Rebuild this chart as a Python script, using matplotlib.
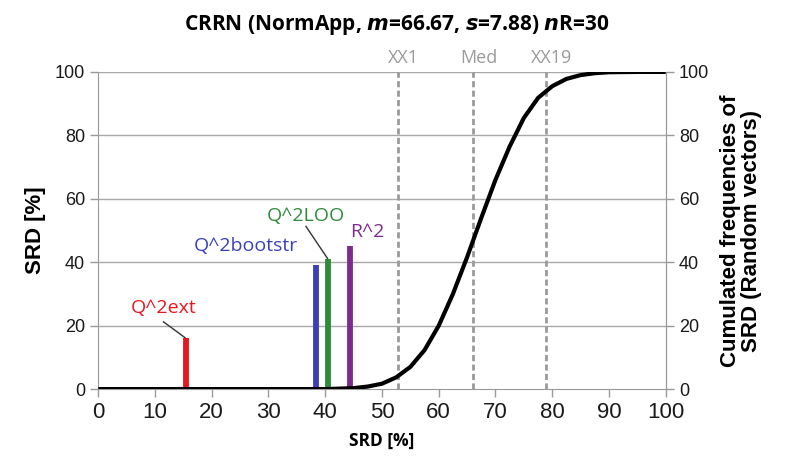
import matplotlib
matplotlib.use("Agg")
import matplotlib.pyplot as plt

# cumulative frequency curve of random SRD values
curve_x = [0, 40, 45, 47.5, 50, 52.5, 55, 57.5, 60, 62.5, 65, 67.5, 70,
           72.5, 75, 77.5, 80, 82.5, 85, 87.5, 90, 95, 100]
curve_y = [0, 0, 0.3, 0.8, 1.7, 3.7, 7, 12.3, 20, 30, 41.6, 54, 66,
           76.5, 85.5, 91.8, 95.5, 97.8, 99, 99.6, 99.9, 100, 100]

# model SRD values
bar_names = ["Q^2ext", "Q^2bootstr", "Q^2LOO", "R^2"]
bar_x = [15.5, 38.3, 40.4, 44.4]
bar_h = [16, 39, 41, 45]
bar_colors = ["#e8161e", "#3b40b8", "#2e8b3a", "#7d2b8e"]

# percentile markers
mark_names = ["XX1", "Med", "XX19"]
mark_x = [52.8, 66.0, 78.9]

GRAY = "#9a9a9a"
CAL = ["Open Sans", "DejaVu Sans"]
ARIAL = ["Liberation Sans", "DejaVu Sans"]

fig = plt.figure(figsize=(7.86, 4.61), dpi=100)
ax = fig.add_axes([0.125, 0.156, 0.722, 0.688])

ax.set_xlim(0, 100)
ax.set_ylim(0, 100)
for y in [20, 40, 60, 80, 100]:
    ax.axhline(y, color="#a8a8a8", lw=1, zorder=0)

for xm in mark_x:
    ax.vlines(xm, 0, 100, colors=GRAY, linestyles=(0, (2.2, 1.2)), lw=2, zorder=1)

ax.vlines(bar_x, 0, bar_h, colors=bar_colors, lw=4.2, zorder=3)
ax.plot(curve_x, curve_y, color="black", lw=3, zorder=4, solid_capstyle="butt")

# labels for the bars
lab_pos = [(11.5, 25.5), (26.0, 45.0), (36.6, 54.5), (47.5, 49.5)]
for name, (tx, ty), c in zip(bar_names, lab_pos, bar_colors):
    ax.text(tx, ty, name, color=c, fontsize=14, family=CAL,
            ha="center", va="center")
# leader lines
ax.plot([11.5, 15.3], [21.2, 16.2], color="#333333", lw=1, zorder=2)
ax.plot([36.6, 40.4], [51.3, 41.2], color="#333333", lw=1, zorder=2)

for name, xm in zip(mark_names, mark_x):
    ax.text(xm + 1.0, 104.5, name, color=GRAY, fontsize=13, family=CAL,
            ha="center", va="center", clip_on=False)

ax.spines["top"].set_visible(False)
for s in ["left", "bottom", "right"]:
    ax.spines[s].set_color("#999999")

ax.set_xticks(range(0, 101, 10))
ax.set_yticks(range(0, 101, 20))
ax.tick_params(axis="both", direction="out", length=6, color="#999999", width=1)
for lab in ax.get_xticklabels():
    lab.set_family(ARIAL)
    lab.set_fontsize(16)
    lab.set_color("#1a1a1a")
for lab in ax.get_yticklabels():
    lab.set_family(ARIAL)
    lab.set_fontsize(13)
    lab.set_color("#1a1a1a")

ax.set_xlabel("SRD [%]", fontsize=12.5, fontweight="bold", family=CAL, labelpad=6)
ax.set_ylabel("SRD [%]", fontsize=16, fontweight="bold", family=ARIAL, labelpad=6)

ax2 = ax.twinx()
ax2.set_ylim(0, 100)
ax2.set_yticks(range(0, 101, 20))
for s in ["top", "left", "bottom"]:
    ax2.spines[s].set_visible(False)
ax2.spines["right"].set_color("#999999")
ax2.tick_params(axis="y", direction="out", length=6, color="#999999", width=1)
for lab in ax2.get_yticklabels():
    lab.set_family(ARIAL)
    lab.set_fontsize(13)
    lab.set_color("#1a1a1a")
ax2.set_ylabel("Cumulated frequencies of\nSRD (Random vectors)", fontsize=16,
               fontweight="bold", family=ARIAL, labelpad=8, linespacing=1.0)

fig.text(0.505, 0.945, "CRRN (NormApp, $\\mathbfit{m}$=66.67, $\\mathbfit{s}$=7.88) $\\mathbfit{n}$R=30",
         ha="center", va="center", fontsize=15, fontweight="bold", family=CAL)

fig.savefig("out.png", dpi=100)
